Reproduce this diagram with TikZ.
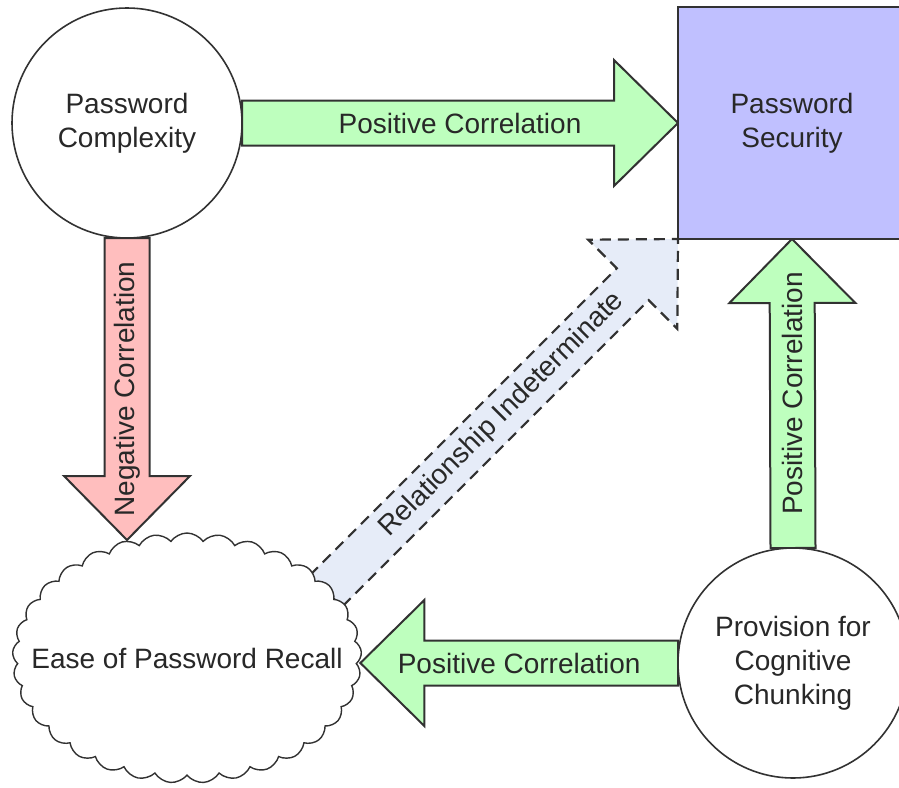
\documentclass[tikz,border=0pt]{standalone}
\usepackage{fontspec}
\setmainfont{Liberation Sans}
\usetikzlibrary{calc,shapes.symbols,backgrounds}
\definecolor{lc}{RGB}{50,50,50}
\definecolor{txt}{RGB}{40,40,40}
\definecolor{posfill}{RGB}{190,255,190}
\definecolor{negfill}{RGB}{255,190,190}
\definecolor{indfill}{RGB}{230,236,248}
\definecolor{secfill}{RGB}{192,192,255}
\newcommand\fatarrow[6]{% style, tail, tip, label name, text, rotation
  \path ($(#3)!64pt!(#2)$) coordinate (fah);
  \begin{scope}[on background layer]
    \draw[#1] ($(#2)!22.5pt!90:(#3)$) -- ($(fah)!22.5pt!90:(#3)$)
      -- ($(fah)!63pt!90:(#3)$) -- (#3) -- ($(fah)!63pt!-90:(#3)$)
      -- ($(fah)!22.5pt!-90:(#3)$) -- ($(#2)!22.5pt!-90:(#3)$) -- cycle;
  \end{scope}
  \node[lbl, rotate=#6] (#4) at ($(#2)!0.5!(#3)$) {#5};
}
\tikzset{
  lbl/.style={font=\fontsize{28}{34}\selectfont, text=txt, inner sep=0pt, align=center},
  circnode/.style={circle, draw=lc, line width=1.6pt, fill=white, minimum size=230pt,
    inner sep=0pt, outer sep=0pt, font=\fontsize{28}{34}\selectfont, text=txt, align=center},
  posarrow/.style={draw=lc, line width=2pt, fill=posfill, line join=miter},
  negarrow/.style={draw=lc, line width=2pt, fill=negfill, line join=miter},
  indarrow/.style={draw=lc, line width=2.2pt, fill=indfill, dash pattern=on 11pt off 7pt, line join=miter},
}
\begin{document}
\begin{tikzpicture}[x=1pt,y=-1pt]
\useasboundingbox (0,0) rectangle (899,787);
\clip (0,0) rectangle (899,787);
\node[circnode] (pc) at (127,123) {Password\\Complexity};
\node[draw=lc, line width=2pt, fill=secfill, minimum width=228pt, minimum height=232pt,
  inner sep=0pt, outer sep=0pt, font=\fontsize{28}{34}\selectfont, text=txt, align=center]
  (ps) at (792,123) {Password\\Security};
\node[circnode] (pcc) at (793,663) {Provision for\\Cognitive\\Chunking};
\node[cloud, cloud puffs=33, cloud puff arc=110, draw=lc, line width=1.4pt, fill=white,
  minimum width=349pt, minimum height=250pt, inner sep=0pt, outer sep=0pt] (epr) at (187,658) {};
\node[lbl] (eprtext) at (epr.center) {Ease of Password Recall};
\coordinate (redtip) at (127,540);
\coordinate (lefttip) at (epr.east |- pcc.west);
\coordinate (diagtail) at (326,591);
\fatarrow{posarrow}{pc.east}{ps.west}{l1}{Positive Correlation}{0}
\fatarrow{negarrow}{pc.south}{redtip}{l2}{Negative Correlation}{90}
\fatarrow{posarrow}{pcc.north}{ps.south}{l3}{Positive Correlation}{90}
\fatarrow{posarrow}{pcc.west}{lefttip}{l4}{Positive Correlation}{0}
\fatarrow{indarrow}{diagtail}{ps.south west}{l5}{Relationship Indeterminate}{45}
\end{tikzpicture}
\end{document}
